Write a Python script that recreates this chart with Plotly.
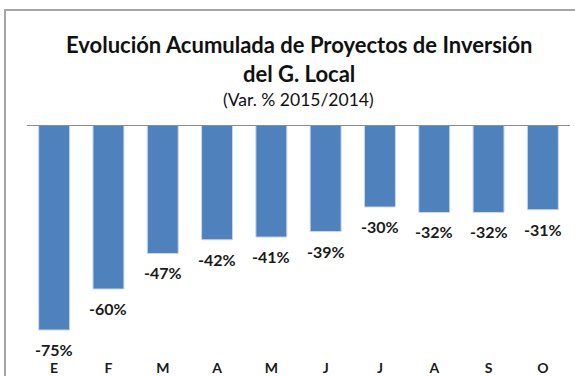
import plotly.graph_objects as go

# Monthly cumulative variation (%) of local government investment projects, 2015 vs 2014
months = ["E", "F", "M", "A", "M", "J", "J", "A", "S", "O"]
variation = [-75, -60, -47, -42, -41, -39, -30, -32, -32, -31]
labels = [f"{v}%" for v in variation]

# Months repeat letters, so bars are placed by index and labelled with the letters
positions = list(range(len(months)))

W, H = 575, 376
L, R, T, B = 27, 5, 125, 26
plot_h = H - T - B
plot_w = W - L - R


def py(pixel_y):
    return (H - B - pixel_y) / plot_h


def px(pixel_x):
    return (pixel_x - L) / plot_w


font_family = "Lato, Open Sans, sans-serif"

fig = go.Figure(
    go.Bar(
        x=positions,
        y=variation,
        marker=dict(color="#4F81BD", line=dict(color="#C9D8EC", width=1)),
        width=0.57,
        hoverinfo="skip",
    )
)

# Value labels below each bar end
for xi, v, t in zip(positions, variation, labels):
    fig.add_annotation(
        x=xi, y=v, text=f"<b>{t}</b>", showarrow=False,
        yanchor="top", yshift=-9, borderpad=0,
        font=dict(family=font_family, size=16, color="#1a1a1a"),
    )

# Title block
fig.add_annotation(
    x=0.5, xref="paper", y=py(45), yref="paper", yanchor="middle",
    text="<b>Evolución Acumulada de Proyectos de Inversión</b>", showarrow=False,
    font=dict(family=font_family, size=22, color="#111111"),
)
fig.add_annotation(
    x=0.5, xref="paper", y=py(73), yref="paper", yanchor="middle",
    text="<b>del G. Local</b>", showarrow=False,
    font=dict(family=font_family, size=22, color="#111111"),
)
fig.add_annotation(
    x=0.5, xref="paper", y=py(100), yref="paper", yanchor="middle",
    text="(Var. % 2015/2014)", showarrow=False,
    font=dict(family=font_family, size=17.5, color="#111111"),
)

# Chart frame and zero line
fig.add_shape(
    type="rect", xref="paper", yref="paper",
    x0=px(5), x1=px(600), y0=py(420), y1=py(10),
    line=dict(color="#A6A6A6", width=2), fillcolor="rgba(0,0,0,0)", layer="below",
)
fig.add_shape(
    type="line", xref="paper", yref="y",
    x0=0, x1=1, y0=0, y1=0,
    line=dict(color="#8C8C8C", width=2),
)

fig.update_layout(
    width=W, height=H,
    margin=dict(l=L, r=R, t=T, b=B, autoexpand=False),
    paper_bgcolor="white", plot_bgcolor="white",
    showlegend=False,
    xaxis=dict(
        tickmode="array", tickvals=positions, ticktext=[f"<b>{m}</b>" for m in months],
        range=[-0.5, len(months) - 0.5],
        showgrid=False, zeroline=False, showline=False, ticks="",
        tickfont=dict(family=font_family, size=14, color="#1a1a1a"),
        ticklabelstandoff=8, automargin=False,
        fixedrange=True,
    ),
    yaxis=dict(
        range=[-82.3, 0], visible=False, showgrid=False, zeroline=False,
        automargin=False, fixedrange=True,
    ),
)

fig.write_html("out.html")
